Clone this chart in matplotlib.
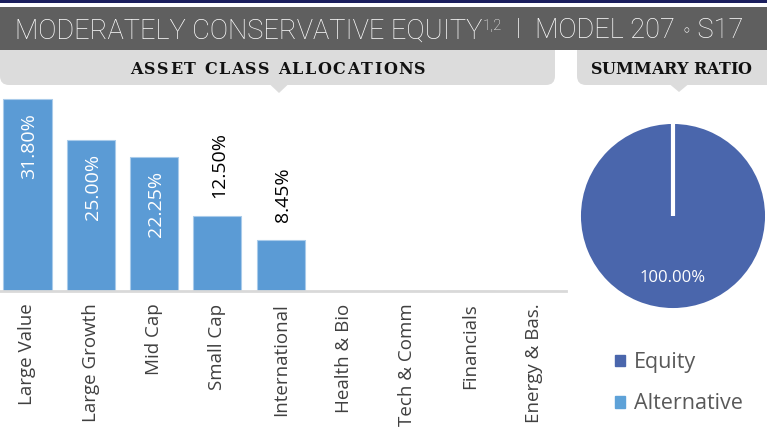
import numpy as np
import matplotlib
matplotlib.use("Agg")
from matplotlib import pyplot as plt
from matplotlib.patches import Rectangle, FancyBboxPatch, Polygon, Patch

categories = ["Large Value", "Large Growth", "Mid Cap", "Small Cap", "International",
              "Health & Bio", "Tech & Comm", "Financials", "Energy & Bas."]
allocations = [31.80, 25.00, 22.25, 12.50, 8.45, 0, 0, 0, 0]

ratio_labels = ["Equity", "Alternative"]
ratio_values = [100.0, 0.0]

bar_color = "#5B9BD5"
pie_colors = ["#4A66AC", "#5EA2D8"]
W, H = 767, 430

fig = plt.figure(figsize=(W / 100, H / 100), dpi=100)
renderer = fig.canvas.get_renderer()

# background / banner drawn in pixel coordinates
bg = fig.add_axes([0, 0, 1, 1], zorder=0)
bg.set_xlim(0, W)
bg.set_ylim(H, 0)
bg.axis("off")

bg.add_patch(Rectangle((0, 0), W, 2.5, color="#1B1F5E", lw=0))
bg.add_patch(FancyBboxPatch((0, 30), 555, 55, boxstyle="round,pad=0,rounding_size=9",
                            fc="#DCDCDC", ec="none"))
bg.add_patch(FancyBboxPatch((577, 30), 200, 55, boxstyle="round,pad=0,rounding_size=9",
                            fc="#DCDCDC", ec="none"))
bg.add_patch(Polygon([(270, 84.5), (288, 84.5), (279, 93)], fc="#DCDCDC", ec="none"))
bg.add_patch(Polygon([(670, 84.5), (688, 84.5), (679, 92)], fc="#DCDCDC", ec="none"))
bg.add_patch(Rectangle((0, 7), W, 43, color="#5F5F5F", lw=0))


def text_w(s, fs, **kw):
    t = bg.text(0, 0, s, fontsize=fs, **kw)
    w = t.get_window_extent(renderer).width
    t.remove()
    return w


title_kw = dict(family="Roboto", fontweight="light")
sym_kw = dict(family="DejaVu Sans")
# (text, size factor, raise in px, font)
title_parts = [("MODERATELY CONSERVATIVE EQUITY", 1.0, 0, title_kw),
               ("1,2", 0.55, 9, title_kw),
               ("  I  MODEL 207 ", 1.0, 0, title_kw),
               ("\u25e6", 0.6, 2, sym_kw),
               (" S17", 1.0, 0, title_kw)]

# size the title so it spans the banner like the reference
total = sum(text_w(s, 20 * k, **kw) for s, k, _, kw in title_parts)
fs = 20 * 731 / total
x = 15
for s, k, dy, kw in title_parts:
    t = bg.text(x, 38.5 - dy, s, fontsize=fs * k, color="white", va="baseline", ha="left", **kw)
    x += t.get_window_extent(renderer).width


def spaced_text(cx, cy, s, width, fs, **kw):
    # letter-spaced heading, centred on cx
    widths = [text_w(c, fs, **kw) for c in s]
    gap = (width - sum(widths)) / (len(s) - 1)
    x = cx - width / 2
    for c, w in zip(s, widths):
        bg.text(x, cy, c, fontsize=fs, ha="left", va="baseline", **kw)
        x += w + gap


tab_kw = dict(family="DejaVu Serif", fontweight="bold", color="#111111")
spaced_text(278, 73.5, "ASSET CLASS ALLOCATIONS", 296, 11.5, **tab_kw)
spaced_text(671, 73.5, "SUMMARY RATIO", 161, 11.5, **tab_kw)

# bar chart
pitch = 63.3
left_px = 27.5 - pitch / 2
ax = fig.add_axes([left_px / W, (H - 291) / H, 9 * pitch / W, (291 - 88) / H], zorder=1)
ax.patch.set_alpha(0)
x_pos = np.arange(len(categories))
bars = ax.bar(x_pos, allocations, width=0.76, color=bar_color, edgecolor="#A9CBEA", linewidth=0.8)
ax.set_xlim(-0.5, len(categories) - 0.5)
ax.set_ylim(0, (291 - 88) / 6.04)
for side in ["top", "right", "left"]:
    ax.spines[side].set_visible(False)
ax.spines["bottom"].set_color("#D9D9D9")
ax.spines["bottom"].set_linewidth(2)
ax.set_yticks([])
ax.set_xticks(x_pos)
ax.set_xticklabels(categories, rotation=90, fontsize=13.5, family="Open Sans", color="#404040")
ax.tick_params(axis="x", length=0, pad=9)

for xi, v in zip(x_pos, allocations):
    if v <= 0:
        continue
    if v >= 20:
        ax.annotate(f"{v:.2f}%", (xi, v), xytext=(2, -14), textcoords="offset pixels",
                    rotation=90, ha="center", va="top", color="white",
                    fontsize=14, family="Open Sans")
    else:
        ax.annotate(f"{v:.2f}%", (xi, v), xytext=(2, 18), textcoords="offset pixels",
                    rotation=90, ha="center", va="bottom", color="black",
                    fontsize=14, family="Open Sans")

# summary ratio pie
r = 96
pax = fig.add_axes([(673 - r) / W, (H - 216 - r) / H, 2 * r / W, 2 * r / H], zorder=1)
wedges, texts, autotexts = pax.pie(
    ratio_values, colors=pie_colors, startangle=90, counterclock=False,
    autopct=lambda p: f"{p:.2f}%" if p > 0 else "", pctdistance=0.66,
    wedgeprops=dict(edgecolor="white", linewidth=3),
    textprops=dict(color="white", fontsize=12, family="Open Sans"))
pax.set_xlim(-1.02, 1.02)
pax.set_ylim(-1.02, 1.02)

handles = [Patch(color=c) for c in pie_colors]
fig.legend(handles, ratio_labels, loc="upper left",
           bbox_to_anchor=(615 / W, (H - 352) / H), frameon=False,
           prop=dict(family="Open Sans", size=15.5), labelcolor="#595959",
           handlelength=0.45, handleheight=0.45, handletextpad=0.45,
           labelspacing=0.95, borderpad=0, borderaxespad=0)

fig.savefig("out.png", dpi=100)
